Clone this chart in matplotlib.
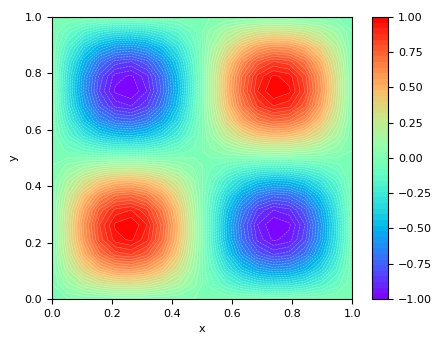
import numpy as np
import matplotlib.pyplot as plt

# grid coordinates (20 nodes per axis)
x_nodes = np.linspace(0.0, 1.0, 20)
y_nodes = np.linspace(0.0, 1.0, 20)

# profile read along each axis through the extrema
x_profile = [0.00, 0.32, 0.61, 0.84, 0.97, 1.00, 0.92, 0.74, 0.48, 0.16,
             -0.16, -0.48, -0.74, -0.92, -1.00, -0.97, -0.84, -0.61, -0.32, 0.00]
y_profile = [0.00, 0.32, 0.61, 0.84, 0.97, 1.00, 0.92, 0.74, 0.48, 0.16,
             -0.16, -0.48, -0.74, -0.92, -1.00, -0.97, -0.84, -0.61, -0.32, 0.00]

cbar_ticks = [-1.00, -0.75, -0.50, -0.25, 0.00, 0.25, 0.50, 0.75, 1.00]

X, Y = np.meshgrid(x_nodes, y_nodes)
Z = np.outer(y_profile, x_profile)

fig = plt.figure(figsize=(4.45, 3.39), dpi=100)
ax = fig.add_axes([0.117, 0.118, 0.675, 0.832])
cax = fig.add_axes([0.836, 0.118, 0.036, 0.832])

levels = np.linspace(-1.0, 1.0, 51)
cs = ax.contourf(X, Y, Z, levels=levels, cmap="rainbow")
ax.contour(X, Y, Z, levels=levels, colors="white", linewidths=0.4, alpha=0.45)
ax.set_xlabel("x", fontsize=8)
ax.set_ylabel("y", fontsize=8)
ax.tick_params(labelsize=8)

cb = fig.colorbar(cs, cax=cax, ticks=cbar_ticks)
cb.ax.tick_params(labelsize=8)
cb.ax.set_yticklabels([f"{t:.2f}".replace("-", "\u2212") for t in cbar_ticks])

fig.savefig("out.png", dpi=100)
